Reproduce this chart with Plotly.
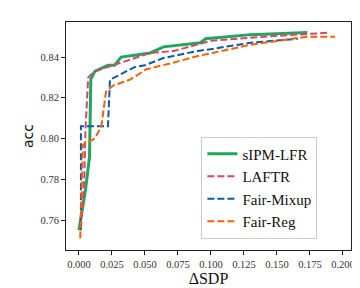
import plotly.graph_objects as go

sipm_x = [0.000, 0.005, 0.008, 0.009, 0.012, 0.022, 0.027, 0.032, 0.054, 0.064, 0.092, 0.096, 0.130, 0.173]
sipm_y = [0.755, 0.775, 0.791, 0.829, 0.833, 0.836, 0.836, 0.840, 0.842, 0.845, 0.847, 0.849, 0.851, 0.852]

laftr_x = [0.0015, 0.004, 0.005, 0.007, 0.012, 0.026, 0.054, 0.072, 0.100, 0.140, 0.190]
laftr_y = [0.756, 0.780, 0.805, 0.830, 0.833, 0.836, 0.842, 0.843, 0.848, 0.850, 0.852]

mixup_x = [0.0015, 0.0015, 0.022, 0.0235, 0.027, 0.042, 0.050, 0.064, 0.090, 0.101, 0.130, 0.166]
mixup_y = [0.755, 0.806, 0.806, 0.829, 0.830, 0.835, 0.836, 0.8395, 0.843, 0.844, 0.847, 0.849]

reg_x = [0.001, 0.003, 0.012, 0.017, 0.0205, 0.026, 0.039, 0.051, 0.070, 0.090, 0.101, 0.130, 0.173, 0.194]
reg_y = [0.751, 0.797, 0.800, 0.806, 0.823, 0.826, 0.829, 0.834, 0.837, 0.8405, 0.842, 0.846, 0.850, 0.850]

names = ["sIPM-LFR", "LAFTR", "Fair-Mixup", "Fair-Reg"]
colors = ["#22a65b", "#d6466e", "#0d5aa7", "#f9600a"]

SERIF = "Liberation Serif"

fig = go.Figure()
fig.add_trace(go.Scatter(x=sipm_x, y=sipm_y, mode="lines", name=names[0],
                         line=dict(color=colors[0], width=3)))
fig.add_trace(go.Scatter(x=laftr_x, y=laftr_y, mode="lines", name=names[1],
                         line=dict(color=colors[1], width=2, dash="7px,3px")))
fig.add_trace(go.Scatter(x=mixup_x, y=mixup_y, mode="lines", name=names[2],
                         line=dict(color=colors[2], width=2, dash="7px,3px")))
fig.add_trace(go.Scatter(x=reg_x, y=reg_y, mode="lines", name=names[3],
                         line=dict(color=colors[3], width=2, dash="7px,3px")))

axis_common = dict(showgrid=False, zeroline=False, showline=True, linecolor="#222",
                   linewidth=1, mirror=True, ticks="outside", ticklen=4, tickcolor="#222",
                   tickfont=dict(family=SERIF, size=10.5, color="#333"))

fig.update_layout(
    width=360, height=288,
    margin=dict(l=58, r=17, t=14, b=46),
    paper_bgcolor="white", plot_bgcolor="white",
    xaxis=dict(range=[-0.0098, 0.2061], tickvals=[0, 0.025, 0.05, 0.075, 0.1, 0.125, 0.15, 0.175, 0.2],
               tickformat=".3f",
               title=dict(text="ΔSDP", font=dict(family=SERIF, size=16, color="#111"), standoff=2),
               **axis_common),
    yaxis=dict(range=[0.7453, 0.8572], tickvals=[0.76, 0.78, 0.80, 0.82, 0.84], tickformat=".2f",
               title=dict(text="acc", font=dict(family="DejaVu Sans", size=14, color="#111"), standoff=3),
               **axis_common),
    legend=dict(x=0.475, y=0.05, xanchor="left", yanchor="bottom",
                font=dict(family=SERIF, size=15, color="#111"),
                bordercolor="#ccc", borderwidth=1, bgcolor="rgba(255,255,255,0.8)",
                tracegroupgap=0, itemwidth=30),
    showlegend=True,
)

fig.write_html("out.html")
